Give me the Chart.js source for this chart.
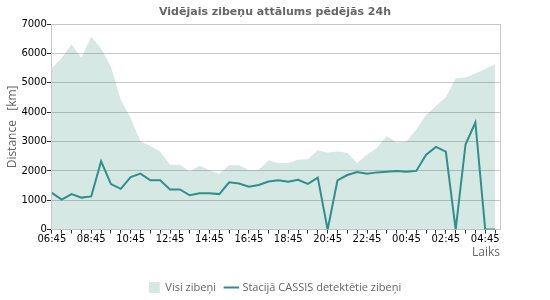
<!DOCTYPE html>
<html>
<head>
<meta charset="utf-8">
<script src="https://cdn.jsdelivr.net/npm/chart.js@4.4.1/dist/chart.umd.min.js"></script>
<style>
    body { margin: 0; background: #fff; }
</style>
</head>
<body>
<canvas id="chart" width="550" height="300"></canvas>
<script>
// half-hour steps from 06:45 to 05:15
const times = ['06:45', '07:15', '07:45', '08:15', '08:45', '09:15', '09:45', '10:15', '10:45', '11:15',
    '11:45', '12:15', '12:45', '13:15', '13:45', '14:15', '14:45', '15:15', '15:45', '16:15',
    '16:45', '17:15', '17:45', '18:15', '18:45', '19:15', '19:45', '20:15', '20:45', '21:15',
    '21:45', '22:15', '22:45', '23:15', '23:45', '00:15', '00:45', '01:15', '01:45', '02:15',
    '02:45', '03:15', '03:45', '04:15', '04:45', '05:15'];

const allStrikes = [5500, 5850, 6320, 5860, 6570, 6170, 5550, 4420, 3800, 3000,
    2850, 2660, 2210, 2210, 1980, 2180, 2020, 1900, 2190, 2190,
    2020, 2040, 2360, 2270, 2270, 2380, 2400, 2700, 2630, 2660,
    2620, 2270, 2550, 2780, 3190, 2970, 3000, 3400, 3910, 4210,
    4510, 5150, 5180, 5320, 5470, 5640];

const cassisStrikes = [1250, 1020, 1210, 1090, 1130, 2330, 1550, 1390, 1790, 1910,
    1680, 1680, 1370, 1370, 1170, 1240, 1240, 1210, 1610, 1570,
    1460, 1520, 1640, 1680, 1630, 1700, 1560, 1770, 0, 1680,
    1860, 1960, 1900, 1950, 1970, 2000, 1970, 2000, 2550, 2820,
    2660, 0, 2900, 3650, 0, 0];

const yTicks = [0, 1000, 2000, 3000, 4000, 5000, 6000, 7000];

const toPoints = arr => arr.map((v, i) => ({ x: i, y: v }));

new Chart(document.getElementById('chart'), {
    type: 'line',
    data: {
        datasets: [
            {
                label: 'Stacijā CASSIS detektētie zibeņi',
                data: toPoints(cassisStrikes),
                borderColor: '#2f8f8b',
                backgroundColor: '#2f8f8b',
                borderWidth: 2,
                pointRadius: 0,
                pointStyle: 'line',
                fill: false
            },
            {
                label: 'Visi zibeņi',
                data: toPoints(allStrikes),
                borderWidth: 0,
                borderColor: 'rgba(20,130,100,0.18)',
                backgroundColor: 'rgba(20,130,100,0.18)',
                pointRadius: 0,
                pointStyle: 'rect',
                fill: 'origin'
            }
        ]
    },
    options: {
        responsive: false,
        animation: false,
        layout: { padding: { bottom: -3 } },
        scales: {
            x: {
                type: 'linear',
                min: 0,
                max: 45.5,
                border: { color: '#c8c8c8' },
                grid: { drawOnChartArea: false, tickLength: 4, tickColor: '#333' },
                ticks: {
                    stepSize: 1,
                    includeBounds: false,
                    autoSkip: false,
                    maxRotation: 0,
                    padding: 0,
                    color: '#000',
                    font: { family: 'DejaVu Sans', size: 10 },
                    callback: v => (v % 4 === 0 ? times[v] : '')
                },
                title: {
                    display: true,
                    text: 'Laiks',
                    align: 'end',
                    color: '#666',
                    font: { family: 'Open Sans', size: 12 },
                    padding: { top: 0, bottom: 12 }
                }
            },
            y: {
                min: 0,
                max: 7000,
                border: { color: '#c8c8c8' },
                grid: { color: '#c8c8c8', tickLength: 5, tickColor: '#333' },
                afterBuildTicks: s => { s.ticks = yTicks.map(v => ({ value: v })); },
                ticks: {
                    padding: 0,
                    color: '#000',
                    font: { family: 'DejaVu Sans', size: 10 },
                    callback: v => String(v)
                },
                title: {
                    display: true,
                    text: 'Distance   [km]',
                    color: '#666',
                    font: { family: 'Open Sans', size: 12 },
                    padding: { top: 5, bottom: 2 }
                }
            },
            yRight: {
                position: 'right',
                border: { color: '#c8c8c8' },
                grid: { drawOnChartArea: false, drawTicks: false },
                ticks: { display: false },
                afterFit: s => { s.width = 50; }
            }
        },
        plugins: {
            title: {
                display: true,
                text: 'Vidējais zibeņu attālums pēdējās 24h',
                color: '#666',
                font: { family: 'DejaVu Sans', size: 11, weight: 'bold' },
                padding: { top: 6, bottom: 5 }
            },
            legend: {
                position: 'bottom',
                reverse: true,
                labels: {
                    usePointStyle: true,
                    boxHeight: 11,
                    boxWidth: 11,
                    padding: 10,
                    color: '#666',
                    font: { family: 'Open Sans', size: 11 }
                }
            },
            tooltip: { enabled: false }
        }
    }
});
</script>
</body>
</html>
